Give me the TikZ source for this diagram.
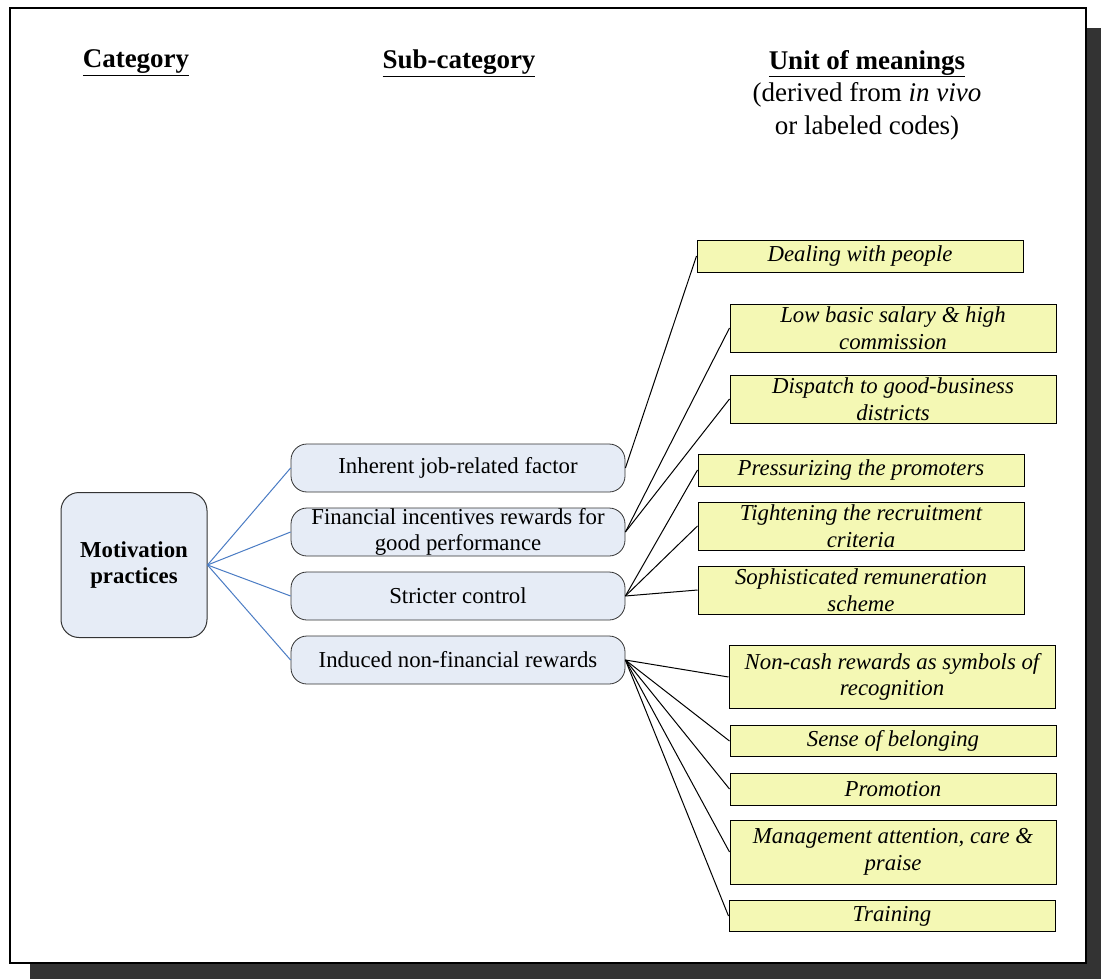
\documentclass[tikz,border=0pt]{standalone}
\usepackage{fontspec}
\setmainfont{Liberation Serif}
\newcommand{\diagfont}{\fontsize{22.8}{26.5}\selectfont}
\newcommand{\headfont}{\fontsize{27}{32.5}\selectfont}
\definecolor{subblue}{HTML}{E6ECF6}
\definecolor{linkblue}{HTML}{4A7CC4}
\definecolor{unityellow}{HTML}{F4F8B4}
\definecolor{shadowgray}{HTML}{333333}
\tikzset{
  head/.style={font=\headfont\bfseries},
  catbox/.style={draw=black!80, fill=subblue, rounded corners=18pt, minimum width=146pt, minimum height=145pt, align=center, font=\diagfont\bfseries, line width=1pt},
  subbox/.style={draw=black!80, fill=subblue, rounded corners=16pt, minimum width=334pt, minimum height=48pt, inner sep=0pt, align=center, font=\diagfont, line width=0.8pt},
  unitbox/.style={draw=black, fill=unityellow, minimum width=326pt, inner sep=0pt, align=center, font=\diagfont\itshape, line width=1pt},
  conn/.style={black, line width=1pt},
}
\begin{document}
\begin{tikzpicture}[x=1pt,y=-1pt]
	\useasboundingbox (0,0) rectangle (1101,979);
	% page with shadow
	\fill[shadowgray] (30,28) rectangle (1101,979);
	\draw[line width=1.5pt, fill=white] (10,8) rectangle (1086,963);

	% column heads
	\node[head] (cathead) at (136,63) {\underline{Category}};
	\node[head] (subhead) at (459,63) {\underline{Sub-category}};
	\node[align=center, font=\headfont] (unithead) at (867,95)
	  {{\bfseries\underline{Unit of meanings}}\\(derived from \textit{in vivo}\\or labeled codes)};

	% category and sub-categories
	\node[catbox] (motivation) at (134,565) {Motivation\\practices};
	\node[subbox] (inherent) at (458,468) {Inherent job-related factor};
	\node[subbox] (financial) at (458,532) {Financial incentives rewards for\\good performance};
	\node[subbox] (stricter) at (458,596) {Stricter control};
	\node[subbox] (induced) at (458,660) {Induced non-financial rewards};

	\foreach \s in {inherent,financial,stricter,induced}
	  \draw[linkblue, line width=1pt] (motivation.east) -- (\s.west);

	% units of meaning
	\foreach \nm/\cx/\cy/\hh/\lbl in {
	    dealing/860/256/32/{Dealing with people},
	    lowbasic/893/328/48/{Low basic salary \& high\\commission},
	    dispatch/893/399/48/{Dispatch to good-business\\districts},
	    pressure/861/470/32/{Pressurizing the promoters},
	    tighten/861/526/48/{Tightening the recruitment\\criteria},
	    sophis/861/590/48/{Sophisticated remuneration\\scheme},
	    noncash/892/677/63/{Non-cash rewards as symbols of\\recognition},
	    sense/893/741/31/{Sense of belonging},
	    promotion/893/789/32/{Promotion},
	    management/893/852/64/{Management attention, care \&\\praise},
	    training/892/916/31/{Training}}
	  {
	      \node[unitbox, minimum height=\hh] (\nm) at (\cx,\cy) {\lbl};
	  }

	\foreach \s/\u in {inherent/dealing, financial/lowbasic, financial/dispatch,
	    stricter/pressure, stricter/tighten, stricter/sophis,
	    induced/noncash, induced/sense, induced/promotion, induced/management, induced/training}
	  \draw[conn] (\s.east) -- (\u.west);
\end{tikzpicture}
\end{document}
